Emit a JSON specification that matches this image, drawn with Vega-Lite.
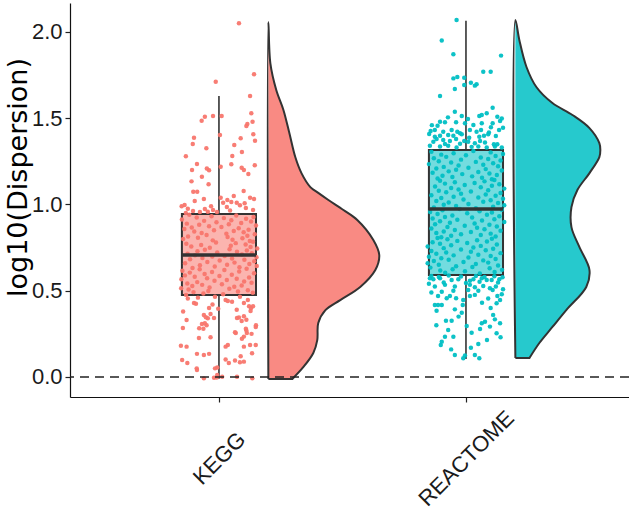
{
"$schema":"https://vega.github.io/schema/vega-lite/v6.json",
"width":559,"height":394,
"autosize":{"type":"none"},
"padding":{"left":70,"top":3,"right":0,"bottom":113},
"background":"white",
"config":{"view":{"stroke":null},
"axis":{"grid":false,"domainColor":"#111","domainWidth":1.2,"tickColor":"#222","tickWidth":1.2,"tickSize":5,"labelFont":"Liberation Sans","labelFontSize":22,"labelColor":"#1a1a1a","titleFont":"DejaVu Sans","titleFontWeight":"normal","titleColor":"#000","labelOverlap":false,"labelFlush":false,"labelBound":false}},
"datasets":{
"box":[{"g":"KEGG","wlo":-0.01,"q1":0.475,"med":0.707,"q3":0.945,"whi":1.629},{"g":"REACTOME","wlo":0.105,"q1":0.591,"med":0.974,"q3":1.316,"whi":2.065}],
"vio":[
{"g":"KEGG","i":0,"v":-0.012,"d":0,"e":1},{"g":"KEGG","i":0.5,"v":-0.012,"d":0.097,"e":1},{"g":"KEGG","i":1,"v":-0.012,"d":0.097,"e":0},{"g":"KEGG","i":2,"v":0.058,"d":0.142,"e":0},{"g":"KEGG","i":3,"v":0.139,"d":0.182,"e":0},{"g":"KEGG","i":4,"v":0.214,"d":0.198,"e":0},{"g":"KEGG","i":5,"v":0.313,"d":0.202,"e":0},{"g":"KEGG","i":6,"v":0.388,"d":0.231,"e":0},{"g":"KEGG","i":7,"v":0.446,"d":0.291,"e":0},{"g":"KEGG","i":8,"v":0.522,"d":0.372,"e":0},{"g":"KEGG","i":9,"v":0.62,"d":0.433,"e":0},{"g":"KEGG","i":10,"v":0.707,"d":0.449,"e":0},{"g":"KEGG","i":11,"v":0.794,"d":0.425,"e":0},{"g":"KEGG","i":12,"v":0.91,"d":0.36,"e":0},{"g":"KEGG","i":13,"v":0.968,"d":0.304,"e":0},{"g":"KEGG","i":14,"v":1.026,"d":0.243,"e":0},{"g":"KEGG","i":15,"v":1.067,"d":0.202,"e":0},{"g":"KEGG","i":16,"v":1.101,"d":0.17,"e":0},{"g":"KEGG","i":17,"v":1.182,"d":0.134,"e":0},{"g":"KEGG","i":18,"v":1.275,"d":0.109,"e":0},{"g":"KEGG","i":19,"v":1.414,"d":0.085,"e":0},{"g":"KEGG","i":20,"v":1.548,"d":0.061,"e":0},{"g":"KEGG","i":21,"v":1.664,"d":0.032,"e":0},{"g":"KEGG","i":22,"v":1.82,"d":0.008,"e":0},{"g":"KEGG","i":23,"v":2.058,"d":0,"e":0},{"g":"KEGG","i":24,"v":-0.012,"d":0,"e":1},
{"g":"REACTOME","i":0,"v":0.11,"d":0,"e":1},{"g":"REACTOME","i":0.5,"v":0.11,"d":0.057,"e":1},{"g":"REACTOME","i":1,"v":0.11,"d":0.057,"e":0},{"g":"REACTOME","i":2,"v":0.197,"d":0.097,"e":0},{"g":"REACTOME","i":3,"v":0.29,"d":0.15,"e":0},{"g":"REACTOME","i":4,"v":0.388,"d":0.206,"e":0},{"g":"REACTOME","i":5,"v":0.522,"d":0.287,"e":0},{"g":"REACTOME","i":6,"v":0.62,"d":0.3,"e":0},{"g":"REACTOME","i":7,"v":0.754,"d":0.259,"e":0},{"g":"REACTOME","i":8,"v":0.869,"d":0.227,"e":0},{"g":"REACTOME","i":9,"v":0.985,"d":0.227,"e":0},{"g":"REACTOME","i":10,"v":1.084,"d":0.251,"e":0},{"g":"REACTOME","i":11,"v":1.182,"d":0.3,"e":0},{"g":"REACTOME","i":12,"v":1.275,"d":0.34,"e":0},{"g":"REACTOME","i":13,"v":1.316,"d":0.344,"e":0},{"g":"REACTOME","i":14,"v":1.356,"d":0.34,"e":0},{"g":"REACTOME","i":15,"v":1.443,"d":0.3,"e":0},{"g":"REACTOME","i":16,"v":1.519,"d":0.231,"e":0},{"g":"REACTOME","i":17,"v":1.588,"d":0.15,"e":0},{"g":"REACTOME","i":18,"v":1.681,"d":0.085,"e":0},{"g":"REACTOME","i":19,"v":1.797,"d":0.045,"e":0},{"g":"REACTOME","i":20,"v":1.954,"d":0.016,"e":0},{"g":"REACTOME","i":21,"v":2.069,"d":0,"e":0},{"g":"REACTOME","i":22,"v":0.11,"d":0,"e":1}
],
"pts":[
{"g":"KEGG","j":0.081,"v":2.05},{"g":"KEGG","j":0.142,"v":1.755},{"g":"KEGG","j":-0.013,"v":1.712},{"g":"KEGG","j":0.126,"v":1.629},{"g":"KEGG","j":0.131,"v":1.529},{"g":"KEGG","j":-0.057,"v":1.509},{"g":"KEGG","j":-0.024,"v":1.513},{"g":"KEGG","j":0.011,"v":1.513},{"g":"KEGG","j":-0.07,"v":1.486},{"g":"KEGG","j":0.136,"v":1.48},{"g":"KEGG","j":0.115,"v":1.467},{"g":"KEGG","j":0.111,"v":1.455},{"g":"KEGG","j":0.004,"v":1.403},{"g":"KEGG","j":0.139,"v":1.407},{"g":"KEGG","j":-0.101,"v":1.387},{"g":"KEGG","j":0.088,"v":1.384},{"g":"KEGG","j":0.146,"v":1.37},{"g":"KEGG","j":-0.106,"v":1.351},{"g":"KEGG","j":0.062,"v":1.345},{"g":"KEGG","j":-0.051,"v":1.326},{"g":"KEGG","j":0.093,"v":1.304},{"g":"KEGG","j":-0.134,"v":1.279},{"g":"KEGG","j":0.054,"v":1.281},{"g":"KEGG","j":-0.089,"v":1.235},{"g":"KEGG","j":0.05,"v":1.233},{"g":"KEGG","j":0.007,"v":1.219},{"g":"KEGG","j":0.145,"v":1.227},{"g":"KEGG","j":-0.049,"v":1.208},{"g":"KEGG","j":-0.109,"v":1.2},{"g":"KEGG","j":0.092,"v":1.213},{"g":"KEGG","j":-0.04,"v":1.198},{"g":"KEGG","j":0.101,"v":1.2},{"g":"KEGG","j":0.119,"v":1.177},{"g":"KEGG","j":-0.069,"v":1.161},{"g":"KEGG","j":-0.111,"v":1.134},{"g":"KEGG","j":-0.042,"v":1.117},{"g":"KEGG","j":0.1,"v":1.078},{"g":"KEGG","j":-0.104,"v":1.074},{"g":"KEGG","j":-0.088,"v":1.074},{"g":"KEGG","j":-0.061,"v":1.032},{"g":"KEGG","j":0.142,"v":1.032},{"g":"KEGG","j":0.126,"v":1.039},{"g":"KEGG","j":-0.098,"v":1.02},{"g":"KEGG","j":0.06,"v":1.049},{"g":"KEGG","j":0.034,"v":1.026},{"g":"KEGG","j":0.05,"v":1.014},{"g":"KEGG","j":0.007,"v":1.039},{"g":"KEGG","j":0.017,"v":1.01},{"g":"KEGG","j":0.072,"v":1.01},{"g":"KEGG","j":0.104,"v":1.007},{"g":"KEGG","j":-0.139,"v":0.997},{"g":"KEGG","j":-0.151,"v":0.99},{"g":"KEGG","j":-0.105,"v":0.962},{"g":"KEGG","j":-0.057,"v":0.974},{"g":"KEGG","j":-0.024,"v":0.968},{"g":"KEGG","j":0.032,"v":0.985},{"g":"KEGG","j":0.085,"v":0.995},{"g":"KEGG","j":0.138,"v":0.968},{"g":"KEGG","j":-0.077,"v":0.956},{"g":"KEGG","j":-0.045,"v":0.958},{"g":"KEGG","j":-0.008,"v":0.956},{"g":"KEGG","j":-0.126,"v":0.975},{"g":"KEGG","j":0.045,"v":0.965},{"g":"KEGG","j":0.109,"v":0.98},{"g":"KEGG","j":-0.032,"v":0.99},{"g":"KEGG","j":-0.134,"v":0.95},
{"g":"KEGG","j":-0.12,"v":0.94},{"g":"KEGG","j":0.07,"v":0.936},{"g":"KEGG","j":-0.03,"v":0.932},{"g":"KEGG","j":0.14,"v":0.928},{"g":"KEGG","j":-0.09,"v":0.924},{"g":"KEGG","j":0.02,"v":0.921},{"g":"KEGG","j":0.11,"v":0.917},{"g":"KEGG","j":-0.15,"v":0.913},{"g":"KEGG","j":0.05,"v":0.909},{"g":"KEGG","j":-0.06,"v":0.905},{"g":"KEGG","j":0.13,"v":0.901},{"g":"KEGG","j":-0.01,"v":0.897},{"g":"KEGG","j":0.09,"v":0.893},{"g":"KEGG","j":-0.13,"v":0.889},{"g":"KEGG","j":0.04,"v":0.885},{"g":"KEGG","j":-0.08,"v":0.882},{"g":"KEGG","j":0.15,"v":0.878},{"g":"KEGG","j":-0.04,"v":0.874},{"g":"KEGG","j":0.01,"v":0.87},{"g":"KEGG","j":-0.11,"v":0.866},{"g":"KEGG","j":0.08,"v":0.862},{"g":"KEGG","j":-0.14,"v":0.858},{"g":"KEGG","j":0.12,"v":0.854},{"g":"KEGG","j":-0.02,"v":0.85},{"g":"KEGG","j":0.06,"v":0.846},{"g":"KEGG","j":-0.1,"v":0.843},{"g":"KEGG","j":0.1,"v":0.839},{"g":"KEGG","j":-0.07,"v":0.835},{"g":"KEGG","j":0.03,"v":0.831},{"g":"KEGG","j":0.145,"v":0.827},{"g":"KEGG","j":-0.05,"v":0.823},{"g":"KEGG","j":0.115,"v":0.819},{"g":"KEGG","j":-0.125,"v":0.815},{"g":"KEGG","j":0.035,"v":0.811},{"g":"KEGG","j":-0.085,"v":0.807},{"g":"KEGG","j":0.095,"v":0.804},{"g":"KEGG","j":-0.145,"v":0.8},{"g":"KEGG","j":0.055,"v":0.796},{"g":"KEGG","j":-0.025,"v":0.792},{"g":"KEGG","j":0.125,"v":0.788},
{"g":"KEGG","j":0.138,"v":0.784},{"g":"KEGG","j":-0.012,"v":0.78},{"g":"KEGG","j":0.068,"v":0.776},{"g":"KEGG","j":-0.132,"v":0.772},{"g":"KEGG","j":0.108,"v":0.768},{"g":"KEGG","j":-0.072,"v":0.765},{"g":"KEGG","j":0.048,"v":0.761},{"g":"KEGG","j":-0.112,"v":0.757},{"g":"KEGG","j":0.128,"v":0.753},{"g":"KEGG","j":-0.037,"v":0.749},{"g":"KEGG","j":0.155,"v":0.745},{"g":"KEGG","j":0.043,"v":0.741},{"g":"KEGG","j":-0.057,"v":0.737},{"g":"KEGG","j":0.113,"v":0.733},{"g":"KEGG","j":-0.087,"v":0.729},{"g":"KEGG","j":0.073,"v":0.726},{"g":"KEGG","j":-0.007,"v":0.722},{"g":"KEGG","j":0.133,"v":0.718},{"g":"KEGG","j":-0.127,"v":0.714},{"g":"KEGG","j":0.093,"v":0.71},{"g":"KEGG","j":-0.097,"v":0.706},{"g":"KEGG","j":0.023,"v":0.702},{"g":"KEGG","j":-0.027,"v":0.698},{"g":"KEGG","j":0.152,"v":0.694},{"g":"KEGG","j":-0.067,"v":0.69},{"g":"KEGG","j":0.053,"v":0.687},{"g":"KEGG","j":-0.117,"v":0.683},{"g":"KEGG","j":0.103,"v":0.679},{"g":"KEGG","j":0.003,"v":0.675},{"g":"KEGG","j":0.143,"v":0.671},{"g":"KEGG","j":-0.047,"v":0.667},{"g":"KEGG","j":0.063,"v":0.663},{"g":"KEGG","j":-0.137,"v":0.659},{"g":"KEGG","j":0.123,"v":0.655},{"g":"KEGG","j":0.033,"v":0.651},{"g":"KEGG","j":-0.077,"v":0.648},{"g":"KEGG","j":0.153,"v":0.644},{"g":"KEGG","j":-0.017,"v":0.64},{"g":"KEGG","j":0.083,"v":0.636},{"g":"KEGG","j":-0.107,"v":0.632},
{"g":"KEGG","j":0.112,"v":0.628},{"g":"KEGG","j":-0.078,"v":0.624},{"g":"KEGG","j":0.022,"v":0.62},{"g":"KEGG","j":-0.148,"v":0.616},{"g":"KEGG","j":0.082,"v":0.612},{"g":"KEGG","j":-0.028,"v":0.609},{"g":"KEGG","j":-0.118,"v":0.605},{"g":"KEGG","j":0.142,"v":0.601},{"g":"KEGG","j":-0.058,"v":0.597},{"g":"KEGG","j":0.052,"v":0.593},{"g":"KEGG","j":-0.138,"v":0.589},{"g":"KEGG","j":0.002,"v":0.585},{"g":"KEGG","j":-0.098,"v":0.581},{"g":"KEGG","j":0.122,"v":0.577},{"g":"KEGG","j":-0.048,"v":0.573},{"g":"KEGG","j":0.072,"v":0.57},{"g":"KEGG","j":-0.152,"v":0.566},{"g":"KEGG","j":0.032,"v":0.562},{"g":"KEGG","j":-0.018,"v":0.558},{"g":"KEGG","j":0.102,"v":0.554},{"g":"KEGG","j":-0.088,"v":0.55},{"g":"KEGG","j":0.132,"v":0.546},{"g":"KEGG","j":-0.128,"v":0.542},{"g":"KEGG","j":0.012,"v":0.538},{"g":"KEGG","j":-0.068,"v":0.534},{"g":"KEGG","j":0.092,"v":0.531},{"g":"KEGG","j":-0.108,"v":0.527},{"g":"KEGG","j":0.062,"v":0.523},{"g":"KEGG","j":-0.038,"v":0.519},{"g":"KEGG","j":-0.153,"v":0.515},{"g":"KEGG","j":0.042,"v":0.511},{"g":"KEGG","j":-0.123,"v":0.507},{"g":"KEGG","j":0.117,"v":0.503},{"g":"KEGG","j":-0.043,"v":0.499},{"g":"KEGG","j":0.077,"v":0.495},{"g":"KEGG","j":-0.103,"v":0.492},{"g":"KEGG","j":0.137,"v":0.488},{"g":"KEGG","j":-0.063,"v":0.484},{"g":"KEGG","j":0.017,"v":0.48},{"g":"KEGG","j":-0.133,"v":0.476},
{"g":"KEGG","j":-0.101,"v":0.429},{"g":"KEGG","j":-0.093,"v":0.425},{"g":"KEGG","j":-0.04,"v":0.4},{"g":"KEGG","j":-0.02,"v":0.342},{"g":"KEGG","j":0.027,"v":0.446},{"g":"KEGG","j":0.036,"v":0.44},{"g":"KEGG","j":0.053,"v":0.436},{"g":"KEGG","j":0.101,"v":0.429},{"g":"KEGG","j":0.117,"v":0.446},{"g":"KEGG","j":0.13,"v":0.4},{"g":"KEGG","j":0.138,"v":0.41},{"g":"KEGG","j":0.073,"v":0.342},{"g":"KEGG","j":0.081,"v":0.345},{"g":"KEGG","j":0.101,"v":0.352},{"g":"KEGG","j":-0.131,"v":0.33},{"g":"KEGG","j":-0.061,"v":0.359},{"g":"KEGG","j":-0.069,"v":0.307},{"g":"KEGG","j":-0.057,"v":0.312},{"g":"KEGG","j":-0.045,"v":0.34},{"g":"KEGG","j":-0.146,"v":0.284},{"g":"KEGG","j":0.149,"v":0.29},{"g":"KEGG","j":0.068,"v":0.255},{"g":"KEGG","j":0.101,"v":0.234},{"g":"KEGG","j":0.093,"v":0.222},{"g":"KEGG","j":0.113,"v":0.255},{"g":"KEGG","j":-0.081,"v":0.226},{"g":"KEGG","j":-0.034,"v":0.23},{"g":"KEGG","j":-0.154,"v":0.181},{"g":"KEGG","j":-0.131,"v":0.176},{"g":"KEGG","j":0.027,"v":0.176},{"g":"KEGG","j":0.036,"v":0.186},{"g":"KEGG","j":0.101,"v":0.176},{"g":"KEGG","j":0.126,"v":0.186},{"g":"KEGG","j":0.149,"v":0.186},{"g":"KEGG","j":-0.089,"v":0.134},{"g":"KEGG","j":-0.061,"v":0.128},{"g":"KEGG","j":-0.04,"v":0.134},{"g":"KEGG","j":0.134,"v":0.137},{"g":"KEGG","j":0.088,"v":0.12},{"g":"KEGG","j":-0.149,"v":0.098},{"g":"KEGG","j":-0.128,"v":0.081},{"g":"KEGG","j":0.027,"v":0.102},{"g":"KEGG","j":0.101,"v":0.089},{"g":"KEGG","j":0.04,"v":0.081},{"g":"KEGG","j":-0.089,"v":0.041},{"g":"KEGG","j":-0.007,"v":0.012},{"g":"KEGG","j":-0.02,"v":-0.004},{"g":"KEGG","j":0.013,"v":0.002},{"g":"KEGG","j":-0.061,"v":-0.008},{"g":"KEGG","j":0.135,"v":-0.008},{"g":"KEGG","j":0.073,"v":0.002},{"g":"KEGG","j":-0.007,"v":0.055},{"g":"KEGG","j":-0.08,"v":0.282},{"g":"KEGG","j":-0.063,"v":0.28},{"g":"KEGG","j":-0.05,"v":0.3},{"g":"KEGG","j":-0.053,"v":0.346},{"g":"KEGG","j":-0.026,"v":0.42},{"g":"KEGG","j":-0.034,"v":0.365},{"g":"KEGG","j":-0.003,"v":0.395},{"g":"KEGG","j":0.072,"v":0.39},{"g":"KEGG","j":0.122,"v":0.41},{"g":"KEGG","j":0.128,"v":0.382},{"g":"KEGG","j":0.092,"v":0.325},{"g":"KEGG","j":0.111,"v":0.332},{"g":"KEGG","j":0.111,"v":0.27},{"g":"KEGG","j":0.132,"v":0.25},{"g":"KEGG","j":0.15,"v":0.3},{"g":"KEGG","j":0.109,"v":0.28},{"g":"KEGG","j":0.065,"v":0.26},{"g":"KEGG","j":-0.145,"v":0.38},{"g":"KEGG","j":-0.126,"v":0.455},{"g":"KEGG","j":-0.085,"v":0.46},{"g":"KEGG","j":-0.016,"v":0.465},{"g":"KEGG","j":0.085,"v":0.465},{"g":"KEGG","j":-0.09,"v":0.05},{"g":"KEGG","j":-0.009,"v":-0.003},{"g":"KEGG","j":0.065,"v":0.095},{"g":"KEGG","j":0.085,"v":0.085},{"g":"KEGG","j":-0.016,"v":0.05},
{"g":"REACTOME","j":-0.038,"v":2.069},{"g":"REACTOME","j":-0.098,"v":1.95},{"g":"REACTOME","j":-0.051,"v":1.871},{"g":"REACTOME","j":0.142,"v":1.863},{"g":"REACTOME","j":0.07,"v":1.77},{"g":"REACTOME","j":0.1,"v":1.77},{"g":"REACTOME","j":-0.051,"v":1.731},{"g":"REACTOME","j":-0.035,"v":1.739},{"g":"REACTOME","j":-0.007,"v":1.735},{"g":"REACTOME","j":0.02,"v":1.706},{"g":"REACTOME","j":0.036,"v":1.689},{"g":"REACTOME","j":0.043,"v":1.697},{"g":"REACTOME","j":-0.007,"v":1.693},{"g":"REACTOME","j":-0.045,"v":1.669},{"g":"REACTOME","j":-0.105,"v":1.629},{"g":"REACTOME","j":-0.045,"v":1.538},{"g":"REACTOME","j":-0.017,"v":1.513},{"g":"REACTOME","j":0.054,"v":1.513},{"g":"REACTOME","j":0.064,"v":1.519},{"g":"REACTOME","j":0.108,"v":1.561},{"g":"REACTOME","j":0.084,"v":1.529},{"g":"REACTOME","j":0.127,"v":1.509},{"g":"REACTOME","j":0.145,"v":1.499},{"g":"REACTOME","j":-0.105,"v":1.48},{"g":"REACTOME","j":-0.085,"v":1.477},{"g":"REACTOME","j":-0.04,"v":1.477},{"g":"REACTOME","j":-0.004,"v":1.471},{"g":"REACTOME","j":0.03,"v":1.461},{"g":"REACTOME","j":0.064,"v":1.471},{"g":"REACTOME","j":0.108,"v":1.471},{"g":"REACTOME","j":0.138,"v":1.484},{"g":"REACTOME","j":-0.115,"v":1.457},{"g":"REACTOME","j":-0.143,"v":1.426},{"g":"REACTOME","j":-0.149,"v":1.409},{"g":"REACTOME","j":-0.126,"v":1.432},{"g":"REACTOME","j":-0.092,"v":1.422},{"g":"REACTOME","j":-0.058,"v":1.432},{"g":"REACTOME","j":-0.035,"v":1.422},{"g":"REACTOME","j":-0.024,"v":1.413},{"g":"REACTOME","j":0.016,"v":1.432},{"g":"REACTOME","j":0.043,"v":1.422},{"g":"REACTOME","j":0.061,"v":1.432},{"g":"REACTOME","j":0.093,"v":1.418},{"g":"REACTOME","j":0.134,"v":1.432},{"g":"REACTOME","j":-0.126,"v":1.393},{"g":"REACTOME","j":-0.105,"v":1.399},{"g":"REACTOME","j":-0.072,"v":1.403},{"g":"REACTOME","j":-0.051,"v":1.399},{"g":"REACTOME","j":-0.017,"v":1.407},{"g":"REACTOME","j":0.013,"v":1.387},{"g":"REACTOME","j":0.054,"v":1.393},{"g":"REACTOME","j":0.073,"v":1.399},{"g":"REACTOME","j":0.09,"v":1.407},{"g":"REACTOME","j":0.121,"v":1.397},{"g":"REACTOME","j":-0.132,"v":1.364},{"g":"REACTOME","j":-0.092,"v":1.374},{"g":"REACTOME","j":-0.065,"v":1.368},{"g":"REACTOME","j":-0.04,"v":1.38},{"g":"REACTOME","j":-0.007,"v":1.368},{"g":"REACTOME","j":0.009,"v":1.364},{"g":"REACTOME","j":0.057,"v":1.368},{"g":"REACTOME","j":0.077,"v":1.359},{"g":"REACTOME","j":0.113,"v":1.349},{"g":"REACTOME","j":0.127,"v":1.349},{"g":"REACTOME","j":-0.119,"v":1.38},{"g":"REACTOME","j":-0.146,"v":1.34},{"g":"REACTOME","j":-0.105,"v":1.336},{"g":"REACTOME","j":-0.072,"v":1.34},{"g":"REACTOME","j":-0.038,"v":1.33},{"g":"REACTOME","j":0.023,"v":1.334},{"g":"REACTOME","j":0.05,"v":1.336},{"g":"REACTOME","j":0.084,"v":1.33},{"g":"REACTOME","j":0.117,"v":1.336},{"g":"REACTOME","j":0.145,"v":1.33},{"g":"REACTOME","j":-0.085,"v":1.35},{"g":"REACTOME","j":-0.024,"v":1.352},{"g":"REACTOME","j":0.036,"v":1.355},{"g":"REACTOME","j":0.15,"v":1.445},{"g":"REACTOME","j":-0.138,"v":1.46},{"g":"REACTOME","j":0.101,"v":1.448},{"g":"REACTOME","j":0.008,"v":1.495},{"g":"REACTOME","j":-0.073,"v":1.505},
{"g":"REACTOME","j":0.03,"v":1.31},{"g":"REACTOME","j":-0.14,"v":1.306},{"g":"REACTOME","j":0.1,"v":1.302},{"g":"REACTOME","j":-0.05,"v":1.297},{"g":"REACTOME","j":0.15,"v":1.293},{"g":"REACTOME","j":-0.1,"v":1.289},{"g":"REACTOME","j":0,"v":1.285},{"g":"REACTOME","j":0.12,"v":1.281},{"g":"REACTOME","j":-0.08,"v":1.276},{"g":"REACTOME","j":0.06,"v":1.272},{"g":"REACTOME","j":-0.13,"v":1.268},{"g":"REACTOME","j":0.09,"v":1.264},{"g":"REACTOME","j":-0.02,"v":1.26},{"g":"REACTOME","j":0.14,"v":1.255},{"g":"REACTOME","j":-0.11,"v":1.251},{"g":"REACTOME","j":0.04,"v":1.247},{"g":"REACTOME","j":-0.06,"v":1.243},{"g":"REACTOME","j":0.11,"v":1.239},{"g":"REACTOME","j":-0.15,"v":1.234},{"g":"REACTOME","j":0.07,"v":1.23},{"g":"REACTOME","j":-0.03,"v":1.226},{"g":"REACTOME","j":0.13,"v":1.222},{"g":"REACTOME","j":-0.09,"v":1.218},{"g":"REACTOME","j":0.01,"v":1.213},{"g":"REACTOME","j":-0.12,"v":1.209},{"g":"REACTOME","j":0.08,"v":1.205},{"g":"REACTOME","j":-0.04,"v":1.201},{"g":"REACTOME","j":0.145,"v":1.197},{"g":"REACTOME","j":-0.07,"v":1.192},{"g":"REACTOME","j":0.05,"v":1.188},{"g":"REACTOME","j":-0.135,"v":1.184},{"g":"REACTOME","j":0.095,"v":1.18},{"g":"REACTOME","j":-0.015,"v":1.176},{"g":"REACTOME","j":0.125,"v":1.171},{"g":"REACTOME","j":-0.095,"v":1.167},{"g":"REACTOME","j":0.025,"v":1.163},{"g":"REACTOME","j":-0.055,"v":1.159},{"g":"REACTOME","j":0.065,"v":1.155},{"g":"REACTOME","j":-0.115,"v":1.15},{"g":"REACTOME","j":0.105,"v":1.146},
{"g":"REACTOME","j":0.115,"v":1.142},{"g":"REACTOME","j":-0.105,"v":1.138},{"g":"REACTOME","j":0.075,"v":1.134},{"g":"REACTOME","j":-0.045,"v":1.129},{"g":"REACTOME","j":0.035,"v":1.125},{"g":"REACTOME","j":-0.085,"v":1.121},{"g":"REACTOME","j":0.135,"v":1.117},{"g":"REACTOME","j":-0.005,"v":1.113},{"g":"REACTOME","j":0.105,"v":1.108},{"g":"REACTOME","j":-0.125,"v":1.104},{"g":"REACTOME","j":0.06,"v":1.1},{"g":"REACTOME","j":-0.06,"v":1.096},{"g":"REACTOME","j":0.155,"v":1.092},{"g":"REACTOME","j":-0.03,"v":1.087},{"g":"REACTOME","j":0.09,"v":1.083},{"g":"REACTOME","j":-0.11,"v":1.079},{"g":"REACTOME","j":0.02,"v":1.075},{"g":"REACTOME","j":-0.08,"v":1.071},{"g":"REACTOME","j":0.14,"v":1.066},{"g":"REACTOME","j":-0.02,"v":1.062},{"g":"REACTOME","j":0.08,"v":1.058},{"g":"REACTOME","j":-0.14,"v":1.054},{"g":"REACTOME","j":0.12,"v":1.05},{"g":"REACTOME","j":-0.05,"v":1.045},{"g":"REACTOME","j":0.05,"v":1.041},{"g":"REACTOME","j":-0.1,"v":1.037},{"g":"REACTOME","j":0.15,"v":1.033},{"g":"REACTOME","j":-0.01,"v":1.029},{"g":"REACTOME","j":0.1,"v":1.024},{"g":"REACTOME","j":-0.12,"v":1.02},{"g":"REACTOME","j":0.07,"v":1.016},{"g":"REACTOME","j":-0.07,"v":1.012},{"g":"REACTOME","j":0.13,"v":1.008},{"g":"REACTOME","j":0.01,"v":1.003},{"g":"REACTOME","j":-0.09,"v":0.999},{"g":"REACTOME","j":0.155,"v":0.995},{"g":"REACTOME","j":-0.04,"v":0.991},{"g":"REACTOME","j":0.11,"v":0.987},{"g":"REACTOME","j":-0.13,"v":0.982},{"g":"REACTOME","j":0.04,"v":0.978},
{"g":"REACTOME","j":-0.025,"v":0.974},{"g":"REACTOME","j":0.145,"v":0.97},{"g":"REACTOME","j":-0.095,"v":0.966},{"g":"REACTOME","j":0.055,"v":0.961},{"g":"REACTOME","j":-0.145,"v":0.957},{"g":"REACTOME","j":0.105,"v":0.953},{"g":"REACTOME","j":0.005,"v":0.949},{"g":"REACTOME","j":-0.115,"v":0.945},{"g":"REACTOME","j":0.085,"v":0.94},{"g":"REACTOME","j":-0.055,"v":0.936},{"g":"REACTOME","j":0.135,"v":0.932},{"g":"REACTOME","j":-0.085,"v":0.928},{"g":"REACTOME","j":0.025,"v":0.924},{"g":"REACTOME","j":-0.135,"v":0.919},{"g":"REACTOME","j":0.115,"v":0.915},{"g":"REACTOME","j":-0.035,"v":0.911},{"g":"REACTOME","j":0.065,"v":0.907},{"g":"REACTOME","j":-0.105,"v":0.903},{"g":"REACTOME","j":0.155,"v":0.898},{"g":"REACTOME","j":-0.065,"v":0.894},{"g":"REACTOME","j":0.035,"v":0.89},{"g":"REACTOME","j":-0.125,"v":0.886},{"g":"REACTOME","j":0.095,"v":0.882},{"g":"REACTOME","j":-0.005,"v":0.877},{"g":"REACTOME","j":0.125,"v":0.873},{"g":"REACTOME","j":-0.075,"v":0.869},{"g":"REACTOME","j":0.045,"v":0.865},{"g":"REACTOME","j":-0.14,"v":0.861},{"g":"REACTOME","j":0.075,"v":0.856},{"g":"REACTOME","j":-0.045,"v":0.852},{"g":"REACTOME","j":0.14,"v":0.848},{"g":"REACTOME","j":-0.09,"v":0.844},{"g":"REACTOME","j":0.02,"v":0.84},{"g":"REACTOME","j":-0.12,"v":0.835},{"g":"REACTOME","j":0.1,"v":0.831},{"g":"REACTOME","j":-0.02,"v":0.827},{"g":"REACTOME","j":0.06,"v":0.823},{"g":"REACTOME","j":-0.06,"v":0.819},{"g":"REACTOME","j":0.12,"v":0.814},{"g":"REACTOME","j":-0.1,"v":0.81},
{"g":"REACTOME","j":-0.115,"v":0.806},{"g":"REACTOME","j":0.105,"v":0.802},{"g":"REACTOME","j":-0.075,"v":0.798},{"g":"REACTOME","j":0.045,"v":0.793},{"g":"REACTOME","j":-0.035,"v":0.789},{"g":"REACTOME","j":0.085,"v":0.785},{"g":"REACTOME","j":-0.135,"v":0.781},{"g":"REACTOME","j":0.005,"v":0.777},{"g":"REACTOME","j":-0.105,"v":0.772},{"g":"REACTOME","j":0.125,"v":0.768},{"g":"REACTOME","j":-0.06,"v":0.764},{"g":"REACTOME","j":0.06,"v":0.76},{"g":"REACTOME","j":-0.155,"v":0.756},{"g":"REACTOME","j":0.03,"v":0.751},{"g":"REACTOME","j":-0.09,"v":0.747},{"g":"REACTOME","j":0.11,"v":0.743},{"g":"REACTOME","j":-0.02,"v":0.739},{"g":"REACTOME","j":0.08,"v":0.735},{"g":"REACTOME","j":-0.14,"v":0.73},{"g":"REACTOME","j":0.02,"v":0.726},{"g":"REACTOME","j":-0.08,"v":0.722},{"g":"REACTOME","j":0.14,"v":0.718},{"g":"REACTOME","j":-0.12,"v":0.714},{"g":"REACTOME","j":0.05,"v":0.709},{"g":"REACTOME","j":-0.05,"v":0.705},{"g":"REACTOME","j":0.1,"v":0.701},{"g":"REACTOME","j":-0.15,"v":0.697},{"g":"REACTOME","j":0.01,"v":0.693},{"g":"REACTOME","j":-0.1,"v":0.688},{"g":"REACTOME","j":0.12,"v":0.684},{"g":"REACTOME","j":-0.07,"v":0.68},{"g":"REACTOME","j":0.07,"v":0.676},{"g":"REACTOME","j":-0.13,"v":0.672},{"g":"REACTOME","j":-0.01,"v":0.667},{"g":"REACTOME","j":0.09,"v":0.663},{"g":"REACTOME","j":-0.155,"v":0.659},{"g":"REACTOME","j":0.04,"v":0.655},{"g":"REACTOME","j":-0.11,"v":0.651},{"g":"REACTOME","j":0.13,"v":0.646},{"g":"REACTOME","j":-0.04,"v":0.642},
{"g":"REACTOME","j":0.026,"v":0.638},{"g":"REACTOME","j":-0.144,"v":0.634},{"g":"REACTOME","j":0.096,"v":0.63},{"g":"REACTOME","j":-0.054,"v":0.625},{"g":"REACTOME","j":0.146,"v":0.621},{"g":"REACTOME","j":-0.104,"v":0.617},{"g":"REACTOME","j":-0.004,"v":0.613},{"g":"REACTOME","j":0.116,"v":0.609},{"g":"REACTOME","j":-0.084,"v":0.604},{"g":"REACTOME","j":0.056,"v":0.6},
{"g":"REACTOME","j":-0.146,"v":0.572},{"g":"REACTOME","j":-0.132,"v":0.566},{"g":"REACTOME","j":-0.105,"v":0.572},{"g":"REACTOME","j":-0.058,"v":0.562},{"g":"REACTOME","j":-0.031,"v":0.566},{"g":"REACTOME","j":0.016,"v":0.558},{"g":"REACTOME","j":0.03,"v":0.566},{"g":"REACTOME","j":0.064,"v":0.572},{"g":"REACTOME","j":0.084,"v":0.562},{"g":"REACTOME","j":0.104,"v":0.562},{"g":"REACTOME","j":0.135,"v":0.566},{"g":"REACTOME","j":-0.126,"v":0.524},{"g":"REACTOME","j":-0.085,"v":0.534},{"g":"REACTOME","j":-0.045,"v":0.524},{"g":"REACTOME","j":0.016,"v":0.534},{"g":"REACTOME","j":0.036,"v":0.52},{"g":"REACTOME","j":0.07,"v":0.528},{"g":"REACTOME","j":0.097,"v":0.514},{"g":"REACTOME","j":0.121,"v":0.524},{"g":"REACTOME","j":-0.098,"v":0.494},{"g":"REACTOME","j":-0.051,"v":0.5},{"g":"REACTOME","j":0.009,"v":0.504},{"g":"REACTOME","j":0.05,"v":0.5},{"g":"REACTOME","j":0.108,"v":0.504},{"g":"REACTOME","j":-0.113,"v":0.47},{"g":"REACTOME","j":-0.078,"v":0.456},{"g":"REACTOME","j":-0.04,"v":0.456},{"g":"REACTOME","j":-0.011,"v":0.446},{"g":"REACTOME","j":0.016,"v":0.47},{"g":"REACTOME","j":0.036,"v":0.476},{"g":"REACTOME","j":0.127,"v":0.47},{"g":"REACTOME","j":0.138,"v":0.446},{"g":"REACTOME","j":-0.126,"v":0.417},{"g":"REACTOME","j":-0.113,"v":0.417},{"g":"REACTOME","j":-0.098,"v":0.417},{"g":"REACTOME","j":-0.013,"v":0.417},{"g":"REACTOME","j":0.124,"v":0.427},{"g":"REACTOME","j":-0.119,"v":0.384},{"g":"REACTOME","j":-0.045,"v":0.392},{"g":"REACTOME","j":-0.017,"v":0.372},{"g":"REACTOME","j":-0.081,"v":0.326},{"g":"REACTOME","j":-0.058,"v":0.326},{"g":"REACTOME","j":0.064,"v":0.311},{"g":"REACTOME","j":0.077,"v":0.32},{"g":"REACTOME","j":0.117,"v":0.334},{"g":"REACTOME","j":0.138,"v":0.311},{"g":"REACTOME","j":0.003,"v":0.296},{"g":"REACTOME","j":0.023,"v":0.257},{"g":"REACTOME","j":0.097,"v":0.292},{"g":"REACTOME","j":0.057,"v":0.278},{"g":"REACTOME","j":0.124,"v":0.253},{"g":"REACTOME","j":-0.072,"v":0.272},{"g":"REACTOME","j":-0.051,"v":0.233},{"g":"REACTOME","j":-0.085,"v":0.233},{"g":"REACTOME","j":-0.098,"v":0.205},{"g":"REACTOME","j":-0.102,"v":0.186},{"g":"REACTOME","j":0.05,"v":0.191},{"g":"REACTOME","j":-0.045,"v":0.128},{"g":"REACTOME","j":-0.004,"v":0.124},{"g":"REACTOME","j":0.036,"v":0.128},{"g":"REACTOME","j":0.054,"v":0.108},{"g":"REACTOME","j":-0.011,"v":0.108},{"g":"REACTOME","j":-0.14,"v":0.585},{"g":"REACTOME","j":-0.11,"v":0.58},{"g":"REACTOME","j":-0.07,"v":0.588},{"g":"REACTOME","j":-0.02,"v":0.582},{"g":"REACTOME","j":0.04,"v":0.586},{"g":"REACTOME","j":0.075,"v":0.58},{"g":"REACTOME","j":0.115,"v":0.584},{"g":"REACTOME","j":0.148,"v":0.578},{"g":"REACTOME","j":-0.09,"v":0.548},{"g":"REACTOME","j":0,"v":0.545},{"g":"REACTOME","j":0.055,"v":0.552},{"g":"REACTOME","j":0.13,"v":0.548},{"g":"REACTOME","j":-0.15,"v":0.54},{"g":"REACTOME","j":0.15,"v":0.508},{"g":"REACTOME","j":-0.065,"v":0.47},{"g":"REACTOME","j":0.09,"v":0.455},{"g":"REACTOME","j":0.145,"v":0.48},{"g":"REACTOME","j":-0.14,"v":0.49},{"g":"REACTOME","j":0.065,"v":0.43},{"g":"REACTOME","j":0.1,"v":0.4},{"g":"REACTOME","j":-0.03,"v":0.35},{"g":"REACTOME","j":0.11,"v":0.36},{"g":"REACTOME","j":-0.12,"v":0.3},{"g":"REACTOME","j":0.14,"v":0.23},{"g":"REACTOME","j":0.085,"v":0.215},{"g":"REACTOME","j":-0.06,"v":0.16},{"g":"REACTOME","j":0.02,"v":0.17}
]},
"layer":[
{"data":{"name":"vio"},
 "transform":[{"filter":"datum.e==0"},{"calculate":"(datum.g=='KEGG'?1:2)+0.2","as":"vx0"},{"calculate":"datum.vx0+datum.d","as":"vx"}],
 "mark":{"type":"area","orient":"horizontal","interpolate":"catmull-rom","fillOpacity":0.85},
 "encoding":{
  "x":{"field":"vx","type":"quantitative","scale":{"domain":[0.397,2.66],"nice":false,"zero":false},"title":null,"axis":{"values":[1,2],"labelExpr":"datum.value==1?'KEGG':'REACTOME'","labelAngle":-45,"labelAlign":"center","labelBaseline":"middle","labelPadding":56}},
  "x2":{"field":"vx0"},
  "y":{"field":"v","type":"quantitative","scale":{"domain":[-0.116,2.168],"nice":false,"zero":false},"title":"log10(Dispersion)","axis":{"values":[0,0.5,1,1.5,2],"format":".1f","labelPadding":3,"titleFontSize":27,"titleX":-38,"titleY":174,"titleAngle":-90,"titleBaseline":"bottom","titleAlign":"center"}},
  "color":{"field":"g","type":"nominal","scale":{"domain":["KEGG","REACTOME"],"range":["#F8766D","#00BFC4"]},"legend":null}}},
{"data":{"name":"vio"},
 "transform":[{"calculate":"(datum.g=='KEGG'?1:2)+0.2+datum.d","as":"vx"}],
 "mark":{"type":"line","interpolate":"catmull-rom","color":"#333","strokeWidth":2},
 "encoding":{
  "x":{"field":"vx","type":"quantitative","scale":{"domain":[0.397,2.66],"nice":false,"zero":false},"title":null},
  "y":{"field":"v","type":"quantitative","scale":{"domain":[-0.116,2.168],"nice":false,"zero":false},"title":"log10(Dispersion)"},
  "order":{"field":"i","type":"quantitative"},
  "detail":{"field":"g","type":"nominal"}}},
{"data":{"name":"box"},
 "transform":[{"calculate":"datum.g=='KEGG'?1:2","as":"p"}],
 "mark":{"type":"rule","color":"#333","strokeWidth":1.6},
 "encoding":{
  "x":{"field":"p","type":"quantitative","scale":{"domain":[0.397,2.66],"nice":false,"zero":false},"title":null},
  "y":{"field":"wlo","type":"quantitative","scale":{"domain":[-0.116,2.168],"nice":false,"zero":false},"title":"log10(Dispersion)"},
  "y2":{"field":"q1"}}},
{"data":{"name":"box"},
 "transform":[{"calculate":"datum.g=='KEGG'?1:2","as":"p"}],
 "mark":{"type":"rule","color":"#333","strokeWidth":1.6},
 "encoding":{
  "x":{"field":"p","type":"quantitative","scale":{"domain":[0.397,2.66],"nice":false,"zero":false},"title":null},
  "y":{"field":"q3","type":"quantitative","scale":{"domain":[-0.116,2.168],"nice":false,"zero":false},"title":"log10(Dispersion)"},
  "y2":{"field":"whi"}}},
{"data":{"name":"box"},
 "transform":[{"calculate":"(datum.g=='KEGG'?1:2)-0.15","as":"xl"},{"calculate":"(datum.g=='KEGG'?1:2)+0.15","as":"xr"}],
 "mark":{"type":"rect","fillOpacity":0.55,"stroke":"#333","strokeWidth":2},
 "encoding":{
  "x":{"field":"xl","type":"quantitative","scale":{"domain":[0.397,2.66],"nice":false,"zero":false},"title":null},
  "x2":{"field":"xr"},
  "y":{"field":"q1","type":"quantitative","scale":{"domain":[-0.116,2.168],"nice":false,"zero":false},"title":"log10(Dispersion)"},
  "y2":{"field":"q3"},
  "color":{"field":"g","type":"nominal","scale":{"domain":["KEGG","REACTOME"],"range":["#F8766D","#00BFC4"]},"legend":null}}},
{"data":{"name":"pts"},
 "transform":[{"calculate":"(datum.g=='KEGG'?1:2)+datum.j","as":"px"}],
 "mark":{"type":"circle","size":20,"opacity":0.95},
 "encoding":{
  "x":{"field":"px","type":"quantitative","scale":{"domain":[0.397,2.66],"nice":false,"zero":false},"title":null},
  "y":{"field":"v","type":"quantitative","scale":{"domain":[-0.116,2.168],"nice":false,"zero":false},"title":"log10(Dispersion)"},
  "color":{"field":"g","type":"nominal","scale":{"domain":["KEGG","REACTOME"],"range":["#F8766D","#00BFC4"]},"legend":null}}},
{"data":{"name":"box"},
 "transform":[{"calculate":"(datum.g=='KEGG'?1:2)-0.15","as":"xl"},{"calculate":"(datum.g=='KEGG'?1:2)+0.15","as":"xr"}],
 "mark":{"type":"rule","color":"#333","strokeWidth":3.5},
 "encoding":{
  "x":{"field":"xl","type":"quantitative","scale":{"domain":[0.397,2.66],"nice":false,"zero":false},"title":null},
  "x2":{"field":"xr"},
  "y":{"field":"med","type":"quantitative","scale":{"domain":[-0.116,2.168],"nice":false,"zero":false},"title":"log10(Dispersion)"}}},
{"data":{"values":[{"z":0}]},
 "mark":{"type":"rule","color":"#222","strokeWidth":1.5,"strokeDash":[9,6]},
 "encoding":{
  "y":{"field":"z","type":"quantitative","scale":{"domain":[-0.116,2.168],"nice":false,"zero":false},"title":"log10(Dispersion)"}}}
]
}
